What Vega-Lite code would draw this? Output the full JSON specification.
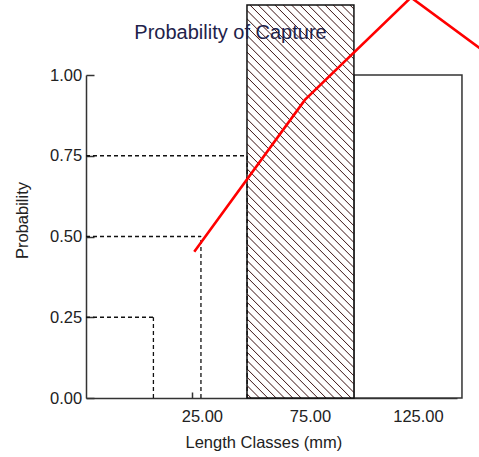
{
  "$schema": "https://vega.github.io/schema/vega-lite/v6.json",
  "width": 371,
  "height": 323,
  "autosize": {"type": "none"},
  "padding": {"left": 86, "top": 75, "right": 22, "bottom": 59},
  "background": "white",
  "title": {"text": "Probability of Capture", "font": "Liberation Sans", "fontSize": 20, "fontWeight": "normal", "color": "#22224a", "frame": "group", "anchor": "middle", "baseline": "alphabetic", "dx": -41, "dy": 71},
  "config": {
    "view": {"stroke": null},
    "axis": {"labelFont": "Liberation Sans", "titleFont": "Liberation Sans", "labelFontSize": 16.5, "titleFontSize": 16.5, "titleFontWeight": "normal", "labelColor": "#222", "titleColor": "#222", "domainColor": "#333", "domainWidth": 1.5, "tickColor": "#333", "tickWidth": 1.5, "grid": false, "zindex": 1}
  },
  "datasets": {
    "box": [{"x": 100, "x2": 150, "y": 0, "y2": 1}],
    "hatch": [{"x": 50.5, "x2": 100, "y": 0, "y2": 1.217}],
    "dash": [
      {"x": -24, "x2": 7.2, "y": 0.25, "y2": 0.25},
      {"x": 7.2, "x2": 7.2, "y": 0, "y2": 0.25},
      {"x": -24, "x2": 29.2, "y": 0.5, "y2": 0.5},
      {"x": 29.2, "x2": 29.2, "y": 0, "y2": 0.5},
      {"x": -24, "x2": 50.6, "y": 0.75, "y2": 0.75},
      {"x": 50.6, "x2": 50.6, "y": 0, "y2": 0.75}
    ],
    "curve": [{"x": 26.1, "y": 0.453}, {"x": 77.3, "y": 0.923}, {"x": 126.4, "y": 1.24}, {"x": 175, "y": 1.0}]
  },
  "layer": [
    {
      "data": {"name": "box"},
      "mark": {"type": "rect", "fill": "white", "stroke": "#333", "strokeWidth": 1.5},
      "encoding": {
        "x": {"field": "x", "type": "quantitative", "scale": {"domain": [-24, 147.7], "nice": false, "zero": false},
              "axis": {"values": [25, 75, 125], "format": ".2f", "tickSize": -6, "labelPadding": 16, "labelOffset": 10, "title": "Length Classes (mm)", "titleX": 177.4, "titleY": 49, "titleBaseline": "alphabetic"}},
        "x2": {"field": "x2"},
        "y": {"field": "y", "type": "quantitative", "scale": {"domain": [0, 1], "nice": false, "zero": false},
              "axis": {"values": [0, 0.25, 0.5, 0.75, 1], "format": ".2f", "tickSize": -8, "labelPadding": 12.3, "title": "Probability", "titleX": -58.5, "titleY": 145, "titleBaseline": "alphabetic", "titleAngle": 270}},
        "y2": {"field": "y2"}
      }
    },
    {
      "data": {"name": "hatch"},
      "mark": {"type": "rect", "stroke": "#111", "strokeWidth": 1.5, "clip": false,
        "fill": {"gradient": "linear", "x1": 0, "y1": 1, "x2": 0.3225, "y2": -0.1845, "stops": [
{"offset":0.0063,"color":"#fff"},{"offset":0.0083,"color":"#3a1010"},{"offset":0.0103,"color":"#fff"},{"offset":0.023,"color":"#fff"},{"offset":0.025,"color":"#3a1010"},{"offset":0.027,"color":"#fff"},{"offset":0.0397,"color":"#fff"},{"offset":0.0417,"color":"#3a1010"},{"offset":0.0437,"color":"#fff"},{"offset":0.0563,"color":"#fff"},{"offset":0.0583,"color":"#3a1010"},{"offset":0.0603,"color":"#fff"},{"offset":0.073,"color":"#fff"},{"offset":0.075,"color":"#3a1010"},{"offset":0.077,"color":"#fff"},{"offset":0.0897,"color":"#fff"},{"offset":0.0917,"color":"#3a1010"},{"offset":0.0937,"color":"#fff"},
{"offset":0.1063,"color":"#fff"},{"offset":0.1083,"color":"#3a1010"},{"offset":0.1103,"color":"#fff"},{"offset":0.123,"color":"#fff"},{"offset":0.125,"color":"#3a1010"},{"offset":0.127,"color":"#fff"},{"offset":0.1397,"color":"#fff"},{"offset":0.1417,"color":"#3a1010"},{"offset":0.1437,"color":"#fff"},{"offset":0.1563,"color":"#fff"},{"offset":0.1583,"color":"#3a1010"},{"offset":0.1603,"color":"#fff"},{"offset":0.173,"color":"#fff"},{"offset":0.175,"color":"#3a1010"},{"offset":0.177,"color":"#fff"},{"offset":0.1897,"color":"#fff"},{"offset":0.1917,"color":"#3a1010"},{"offset":0.1937,"color":"#fff"},
{"offset":0.2063,"color":"#fff"},{"offset":0.2083,"color":"#3a1010"},{"offset":0.2103,"color":"#fff"},{"offset":0.223,"color":"#fff"},{"offset":0.225,"color":"#3a1010"},{"offset":0.227,"color":"#fff"},{"offset":0.2397,"color":"#fff"},{"offset":0.2417,"color":"#3a1010"},{"offset":0.2437,"color":"#fff"},{"offset":0.2563,"color":"#fff"},{"offset":0.2583,"color":"#3a1010"},{"offset":0.2603,"color":"#fff"},{"offset":0.273,"color":"#fff"},{"offset":0.275,"color":"#3a1010"},{"offset":0.277,"color":"#fff"},{"offset":0.2897,"color":"#fff"},{"offset":0.2917,"color":"#3a1010"},{"offset":0.2937,"color":"#fff"},
{"offset":0.3063,"color":"#fff"},{"offset":0.3083,"color":"#3a1010"},{"offset":0.3103,"color":"#fff"},{"offset":0.323,"color":"#fff"},{"offset":0.325,"color":"#3a1010"},{"offset":0.327,"color":"#fff"},{"offset":0.3397,"color":"#fff"},{"offset":0.3417,"color":"#3a1010"},{"offset":0.3437,"color":"#fff"},{"offset":0.3563,"color":"#fff"},{"offset":0.3583,"color":"#3a1010"},{"offset":0.3603,"color":"#fff"},{"offset":0.373,"color":"#fff"},{"offset":0.375,"color":"#3a1010"},{"offset":0.377,"color":"#fff"},{"offset":0.3897,"color":"#fff"},{"offset":0.3917,"color":"#3a1010"},{"offset":0.3937,"color":"#fff"},
{"offset":0.4063,"color":"#fff"},{"offset":0.4083,"color":"#3a1010"},{"offset":0.4103,"color":"#fff"},{"offset":0.423,"color":"#fff"},{"offset":0.425,"color":"#3a1010"},{"offset":0.427,"color":"#fff"},{"offset":0.4397,"color":"#fff"},{"offset":0.4417,"color":"#3a1010"},{"offset":0.4437,"color":"#fff"},{"offset":0.4563,"color":"#fff"},{"offset":0.4583,"color":"#3a1010"},{"offset":0.4603,"color":"#fff"},{"offset":0.473,"color":"#fff"},{"offset":0.475,"color":"#3a1010"},{"offset":0.477,"color":"#fff"},{"offset":0.4897,"color":"#fff"},{"offset":0.4917,"color":"#3a1010"},{"offset":0.4937,"color":"#fff"},
{"offset":0.5063,"color":"#fff"},{"offset":0.5083,"color":"#3a1010"},{"offset":0.5103,"color":"#fff"},{"offset":0.523,"color":"#fff"},{"offset":0.525,"color":"#3a1010"},{"offset":0.527,"color":"#fff"},{"offset":0.5397,"color":"#fff"},{"offset":0.5417,"color":"#3a1010"},{"offset":0.5437,"color":"#fff"},{"offset":0.5563,"color":"#fff"},{"offset":0.5583,"color":"#3a1010"},{"offset":0.5603,"color":"#fff"},{"offset":0.573,"color":"#fff"},{"offset":0.575,"color":"#3a1010"},{"offset":0.577,"color":"#fff"},{"offset":0.5897,"color":"#fff"},{"offset":0.5917,"color":"#3a1010"},{"offset":0.5937,"color":"#fff"},
{"offset":0.6063,"color":"#fff"},{"offset":0.6083,"color":"#3a1010"},{"offset":0.6103,"color":"#fff"},{"offset":0.623,"color":"#fff"},{"offset":0.625,"color":"#3a1010"},{"offset":0.627,"color":"#fff"},{"offset":0.6397,"color":"#fff"},{"offset":0.6417,"color":"#3a1010"},{"offset":0.6437,"color":"#fff"},{"offset":0.6563,"color":"#fff"},{"offset":0.6583,"color":"#3a1010"},{"offset":0.6603,"color":"#fff"},{"offset":0.673,"color":"#fff"},{"offset":0.675,"color":"#3a1010"},{"offset":0.677,"color":"#fff"},{"offset":0.6897,"color":"#fff"},{"offset":0.6917,"color":"#3a1010"},{"offset":0.6937,"color":"#fff"},
{"offset":0.7063,"color":"#fff"},{"offset":0.7083,"color":"#3a1010"},{"offset":0.7103,"color":"#fff"},{"offset":0.723,"color":"#fff"},{"offset":0.725,"color":"#3a1010"},{"offset":0.727,"color":"#fff"},{"offset":0.7397,"color":"#fff"},{"offset":0.7417,"color":"#3a1010"},{"offset":0.7437,"color":"#fff"},{"offset":0.7563,"color":"#fff"},{"offset":0.7583,"color":"#3a1010"},{"offset":0.7603,"color":"#fff"},{"offset":0.773,"color":"#fff"},{"offset":0.775,"color":"#3a1010"},{"offset":0.777,"color":"#fff"},{"offset":0.7897,"color":"#fff"},{"offset":0.7917,"color":"#3a1010"},{"offset":0.7937,"color":"#fff"},
{"offset":0.8063,"color":"#fff"},{"offset":0.8083,"color":"#3a1010"},{"offset":0.8103,"color":"#fff"},{"offset":0.823,"color":"#fff"},{"offset":0.825,"color":"#3a1010"},{"offset":0.827,"color":"#fff"},{"offset":0.8397,"color":"#fff"},{"offset":0.8417,"color":"#3a1010"},{"offset":0.8437,"color":"#fff"},{"offset":0.8563,"color":"#fff"},{"offset":0.8583,"color":"#3a1010"},{"offset":0.8603,"color":"#fff"},{"offset":0.873,"color":"#fff"},{"offset":0.875,"color":"#3a1010"},{"offset":0.877,"color":"#fff"},{"offset":0.8897,"color":"#fff"},{"offset":0.8917,"color":"#3a1010"},{"offset":0.8937,"color":"#fff"},
{"offset":0.9063,"color":"#fff"},{"offset":0.9083,"color":"#3a1010"},{"offset":0.9103,"color":"#fff"},{"offset":0.923,"color":"#fff"},{"offset":0.925,"color":"#3a1010"},{"offset":0.927,"color":"#fff"},{"offset":0.9397,"color":"#fff"},{"offset":0.9417,"color":"#3a1010"},{"offset":0.9437,"color":"#fff"},{"offset":0.9563,"color":"#fff"},{"offset":0.9583,"color":"#3a1010"},{"offset":0.9603,"color":"#fff"},{"offset":0.973,"color":"#fff"},{"offset":0.975,"color":"#3a1010"},{"offset":0.977,"color":"#fff"},{"offset":0.9897,"color":"#fff"},{"offset":0.9917,"color":"#3a1010"},{"offset":0.9937,"color":"#fff"}
        ]}},
      "encoding": {
        "x": {"field": "x", "type": "quantitative"},
        "x2": {"field": "x2"},
        "y": {"field": "y", "type": "quantitative"},
        "y2": {"field": "y2"}
      }
    },
    {
      "data": {"name": "dash"},
      "mark": {"type": "rule", "color": "#111", "strokeWidth": 1.3, "strokeDash": [4, 3]},
      "encoding": {
        "x": {"field": "x", "type": "quantitative"},
        "x2": {"field": "x2"},
        "y": {"field": "y", "type": "quantitative"},
        "y2": {"field": "y2"}
      }
    },
    {
      "data": {"name": "curve"},
      "mark": {"type": "line", "color": "#ff0000", "strokeWidth": 2.6, "clip": false},
      "encoding": {
        "x": {"field": "x", "type": "quantitative"},
        "y": {"field": "y", "type": "quantitative"}
      }
    }
  ]
}
